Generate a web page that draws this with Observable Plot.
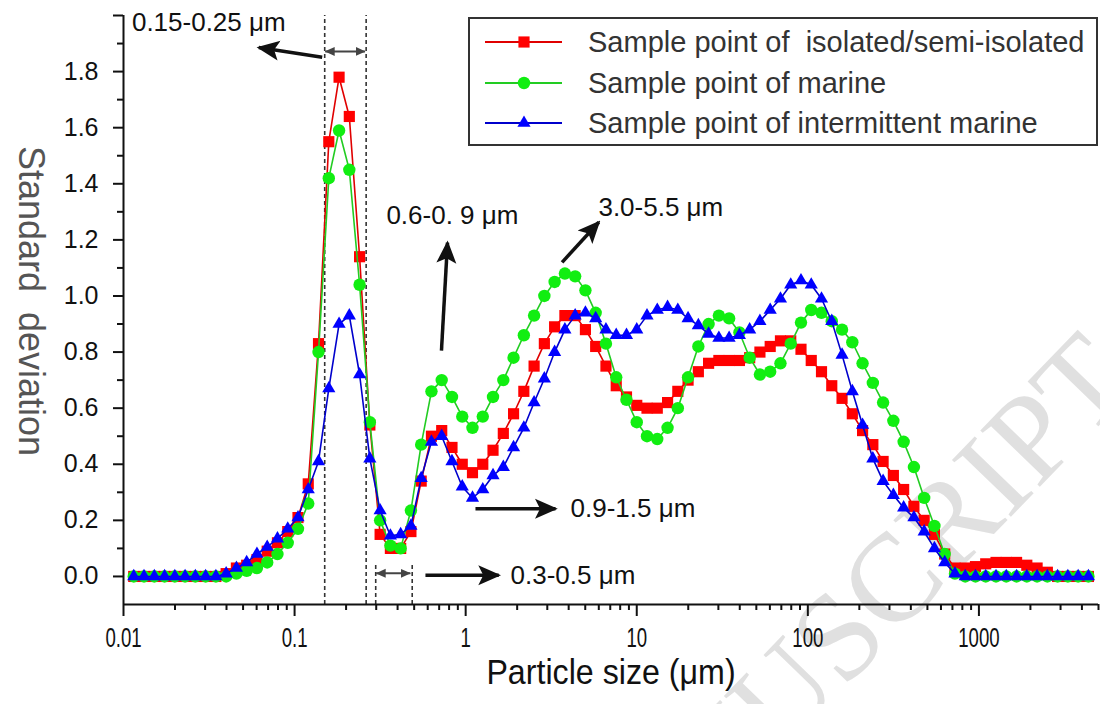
<!DOCTYPE html>
<html>
<head>
<meta charset="utf-8">
<script src="https://cdn.jsdelivr.net/npm/d3@7"></script>
<script src="https://cdn.jsdelivr.net/npm/@observablehq/plot@0.6"></script>
<style>
  html, body { margin: 0; padding: 0; background: #fff; }
  #wrap { position: relative; width: 1100px; height: 704px; overflow: hidden; font-family: "Liberation Sans", Arial, sans-serif; }
  #wrap svg text { white-space: pre; }
  #wm { position: absolute; left: 0; top: 0; }
  #wrap > svg.chart { position: absolute; left: 0; top: 0; }
  .legend { position: absolute; border: 2px solid #333; background: #fff; box-sizing: border-box; }
  .legend .row { position: absolute; left: 0; height: 40px; display: flex; align-items: center; }
  .legend .row span { font-size: 29px; color: #333; white-space: pre; margin-left: 10px; }
</style>
</head>
<body>
<div id="wrap"></div>
<script>
// ---------- data ----------
const sizes = [0.01148, 0.01318, 0.01514, 0.01738, 0.01995, 0.02291, 0.0263, 0.0302, 0.03467, 0.03981,
  0.04571, 0.05248, 0.06026, 0.06918, 0.07943, 0.0912, 0.1047, 0.1202, 0.138, 0.1585,
  0.182, 0.2089, 0.2399, 0.2754, 0.3162, 0.3631, 0.4169, 0.4786, 0.5495, 0.631,
  0.7244, 0.8318, 0.955, 1.096, 1.259, 1.445, 1.66, 1.905, 2.188, 2.512,
  2.884, 3.311, 3.802, 4.365, 5.012, 5.754, 6.607, 7.586, 8.71, 10,
  11.48, 13.18, 15.14, 17.38, 19.95, 22.91, 26.3, 30.2, 34.67, 39.81,
  45.71, 52.48, 60.26, 69.18, 79.43, 91.2, 104.7, 120.2, 138, 158.5,
  182, 208.9, 239.9, 275.4, 316.2, 363.1, 416.9, 478.6, 549.5, 631,
  724.4, 831.8, 955, 1096, 1259, 1445, 1660, 1905, 2188, 2512,
  2884, 3311, 3802, 4365];

const isolated = [0, 0, 0, 0, 0, 0, 0, 0, 0, 0.01,
  0.03, 0.04, 0.06, 0.09, 0.12, 0.16, 0.21, 0.33, 0.83, 1.55,
  1.78, 1.64, 1.14, 0.54, 0.15, 0.10, 0.10, 0.16, 0.34, 0.50,
  0.52, 0.46, 0.40, 0.37, 0.40, 0.45, 0.51, 0.58, 0.66, 0.75,
  0.83, 0.89, 0.93, 0.93, 0.88, 0.82, 0.75, 0.68, 0.64, 0.61,
  0.60, 0.60, 0.62, 0.66, 0.70, 0.73, 0.76, 0.77, 0.77, 0.77,
  0.78, 0.80, 0.82, 0.84, 0.84, 0.81, 0.77, 0.73, 0.68, 0.635,
  0.58, 0.52, 0.47, 0.41, 0.36, 0.31, 0.25, 0.20, 0.15, 0.08,
  0.03, 0.03, 0.035, 0.045, 0.05, 0.05, 0.05, 0.04, 0.03, 0.015,
  0, 0, 0, 0];

const marine = [0, 0, 0, 0, 0, 0, 0, 0, 0, 0,
  0.01, 0.02, 0.03, 0.05, 0.08, 0.12, 0.17, 0.26, 0.80, 1.42,
  1.59, 1.45, 1.04, 0.55, 0.20, 0.11, 0.10, 0.235, 0.47, 0.66,
  0.70, 0.64, 0.57, 0.53, 0.57, 0.64, 0.70, 0.78, 0.86, 0.93,
  1.00, 1.05, 1.08, 1.07, 1.02, 0.94, 0.83, 0.71, 0.63, 0.55,
  0.50, 0.49, 0.53, 0.60, 0.71, 0.82, 0.90, 0.93, 0.92, 0.87,
  0.78, 0.72, 0.73, 0.76, 0.83, 0.905, 0.95, 0.94, 0.91, 0.88,
  0.835, 0.76, 0.69, 0.62, 0.555, 0.48, 0.39, 0.28, 0.18, 0.08,
  0.01, 0, 0, 0, 0, 0, 0, 0, 0, 0,
  0, 0, 0, 0];

const intermittent = [0, 0, 0, 0, 0, 0, 0, 0, 0, 0.01,
  0.03, 0.05, 0.08, 0.105, 0.135, 0.17, 0.21, 0.31, 0.41, 0.67,
  0.90, 0.93, 0.72, 0.42, 0.235, 0.145, 0.15, 0.18, 0.35, 0.48,
  0.50, 0.41, 0.32, 0.28, 0.31, 0.36, 0.39, 0.46, 0.53, 0.62,
  0.705, 0.80, 0.88, 0.93, 0.94, 0.92, 0.88, 0.86, 0.86, 0.88,
  0.93, 0.95, 0.96, 0.95, 0.92, 0.895, 0.865, 0.85, 0.85, 0.86,
  0.88, 0.91, 0.95, 0.99, 1.04, 1.055, 1.04, 0.99, 0.91, 0.79,
  0.66, 0.54, 0.42, 0.34, 0.29, 0.245, 0.21, 0.16, 0.10, 0.05,
  0.01, 0, 0, 0, 0, 0, 0, 0, 0, 0,
  0, 0, 0, 0];

const seriesNames = ["Sample point of  isolated/semi-isolated", "Sample point of marine", "Sample point of intermittent marine"];
const seriesValues = [isolated, marine, intermittent];

const xMajorTicks = [0.01, 0.1, 1, 10, 100, 1000];
const xMinorTicks = [];
[0.01, 0.1, 1, 10, 100, 1000].forEach(d => [2,3,4,5,6,7,8,9].forEach(m => { const v = +(d*m).toPrecision(3); if (v <= 5000) xMinorTicks.push(v); }));
const yMajorTicks = [0, 0.2, 0.4, 0.6, 0.8, 1.0, 1.2, 1.4, 1.6, 1.8];
const yMinorTicks = [0.1, 0.3, 0.5, 0.7, 0.9, 1.1, 1.3, 1.5, 1.7, 1.9];

const xTitle = "Particle size (μm)";
const yTitle = "Standard  deviation";
const watermark = "ACCEPTED MANUSCRIPT";

// annotations (data coordinates)
const noteLabels = ["0.15-0.25 μm", "0.6-0. 9 μm", "3.0-5.5 μm", "0.9-1.5 μm", "0.3-0.5 μm"];
const noteX = [0.0112, 0.344, 5.97, 4.10, 1.83];
const noteY = [1.974, 1.287, 1.315, 0.242, 0.004];
const arrowX1 = [0.145, 0.722, 3.66, 1.141, 0.582];
const arrowY1 = [1.851, 0.805, 1.12, 0.241, 0.004];
const arrowX2 = [0.0618, 0.783, 6.0, 3.35, 1.561];
const arrowY2 = [1.886, 1.19, 1.263, 0.241, 0.004];
const bandX1 = [0.151, 0.30];
const bandX2 = [0.258, 0.475];
const bandY = [1.872, 0.011];
const dashFull = [0.15, 0.262];
const dashLow = [0.298, 0.487];

// ---------- build ----------
const colors = {
  marker: ["#ff0000", "#11ee11", "#0000ff"],
  line: ["#e00000", "#22cc22", "#0000cc"],
  symbol: ["square", "circle", "triangle"],
  r: [6.3, 6.2, 4.9]
};

const rows = seriesValues.map(vals => sizes.map((s, i) => ({ size: s, v: vals[i] })));
const notes = noteLabels.map((t, i) => ({ t, x: noteX[i], y: noteY[i] }));
const arrows = arrowX1.map((x1, i) => ({ x1, y1: arrowY1[i], x2: arrowX2[i], y2: arrowY2[i] }));
const bands = bandX1.map((x1, i) => ({ x1, x2: bandX2[i], y: bandY[i] }));

const seriesMarks = [];
rows.forEach((data, k) => {
  seriesMarks.push(Plot.line(data, { x: "size", y: "v", stroke: colors.line[k], strokeWidth: 1.6 }));
  seriesMarks.push(Plot.dot(data, { x: "size", y: "v", symbol: colors.symbol[k], r: colors.r[k], fill: colors.marker[k], stroke: "none" }));
});

const chart = Plot.plot({
  width: 1100,
  height: 704,
  marginLeft: 123,
  marginRight: 2,
  marginTop: 15,
  marginBottom: 100,
  style: { fontFamily: "'Liberation Sans', Arial, sans-serif", background: "transparent", overflow: "visible", color: "#111" },
  x: { type: "log", domain: [0.01, 5000], label: null },
  y: { domain: [-0.1, 2.0], label: null },
  marks: [
    Plot.ruleX(dashFull, { y1: -0.1, y2: 2.0, stroke: "#333", strokeWidth: 1.6, strokeDasharray: "4,3" }),
    Plot.ruleX(dashLow, { y1: -0.1, y2: 0.047, stroke: "#333", strokeWidth: 1.6, strokeDasharray: "4,3" }),
    ...seriesMarks,
    Plot.ruleX([0.01], { y1: -0.1, y2: 2.0, stroke: "#111", strokeWidth: 2 }),
    Plot.ruleY([-0.1], { x1: 0.01, x2: 5000, stroke: "#111", strokeWidth: 2 }),
    Plot.axisY(yMajorTicks, { anchor: "left", tickSize: 10, tickPadding: 15, tickFormat: d => d.toFixed(1), fontSize: 25, strokeWidth: 2, label: null, fill: "#111" }),
    Plot.axisY([2.0], { anchor: "left", tickSize: 10, tickFormat: () => "", strokeWidth: 2, label: null }),
    Plot.axisY(yMinorTicks, { anchor: "left", tickSize: 6, tickFormat: () => "", strokeWidth: 2, label: null }),
    Plot.axisX(xMajorTicks, { anchor: "bottom", tickSize: 12, tickPadding: 11, tickFormat: d => String(d), fontSize: 27, strokeWidth: 2, label: null, fill: "#111" }),
    Plot.axisX(xMinorTicks, { anchor: "bottom", tickSize: 6, tickFormat: () => "", strokeWidth: 2, label: null }),
    Plot.text([xTitle], { frameAnchor: "bottom", textAnchor: "middle", dy: 79, fontSize: 35, fill: "#111" }),
    Plot.text([yTitle], { frameAnchor: "left", textAnchor: "middle", dx: -93, dy: -9, rotate: 90, fontSize: 36, fill: "#555" }),
    Plot.text(notes, { x: "x", y: "y", text: "t", textAnchor: "start", fontSize: 26, fill: "#111" }),
    Plot.link(arrows, { x1: "x1", y1: "y1", x2: "x2", y2: "y2", stroke: "#111", strokeWidth: 3.5 }),
    Plot.link(bands, { x1: "x1", y1: "y", x2: "x2", y2: "y", stroke: "#444", strokeWidth: 2 })
  ]
});
chart.classList.add("chart");

// arrowheads
const ns = "http://www.w3.org/2000/svg";
const defs = document.createElementNS(ns, "defs");
function makeMarker(id, refX, size, orient, d, fill) {
  const m = document.createElementNS(ns, "marker");
  m.setAttribute("id", id);
  m.setAttribute("viewBox", "0 0 10 10");
  m.setAttribute("refX", refX);
  m.setAttribute("refY", 5);
  m.setAttribute("markerWidth", size);
  m.setAttribute("markerHeight", size);
  m.setAttribute("orient", orient);
  m.setAttribute("markerUnits", "strokeWidth");
  const p = document.createElementNS(ns, "path");
  p.setAttribute("d", d);
  p.setAttribute("fill", fill);
  p.setAttribute("stroke", "none");
  m.appendChild(p);
  defs.appendChild(m);
}
makeMarker("headB", 9, 6.5, "auto", "M0,0.6 L10,5 L0,9.4 L2.2,5 z", "#111");
makeMarker("headG", 9.5, 5, "auto-start-reverse", "M0,0.5 L10,5 L0,9.5 z", "#444");
chart.insertBefore(defs, chart.firstChild);
chart.querySelectorAll('g[stroke-width="3.5"] path').forEach(p => p.setAttribute("marker-end", "url(#headB)"));
chart.querySelectorAll('g[stroke="#444"] path').forEach(p => { p.setAttribute("marker-end", "url(#headG)"); p.setAttribute("marker-start", "url(#headG)"); });

// condensed look for x tick labels and x title
function squeezeText(t, sx) {
  const tr = t.getAttribute("transform");
  if (tr) t.setAttribute("transform", tr + ` scale(${sx},1)`);
  else {
    const x = +(t.getAttribute("x") || 0), y = +(t.getAttribute("y") || 0);
    t.setAttribute("x", 0); t.setAttribute("y", 0);
    t.setAttribute("transform", `translate(${x},${y}) scale(${sx},1)`);
  }
}
chart.querySelectorAll('g[aria-label="x-axis tick label"] text').forEach(t => squeezeText(t, 0.69));
chart.querySelectorAll('text').forEach(t => { if (t.textContent === xTitle) squeezeText(t, 0.92); });

const wrap = document.getElementById("wrap");

// faint watermark behind the chart
const wm = d3.select(wrap).append("svg").attr("id", "wm").attr("width", 1100).attr("height", 704);
wm.append("text")
  .attr("x", 1138).attr("y", 385)
  .attr("text-anchor", "end")
  .attr("transform", "rotate(-46 1138 385)")
  .attr("font-family", "'Liberation Serif', 'Times New Roman', serif")
  .attr("font-size", 125)
  .attr("fill", "#e0e0e0")
  .text(watermark);

wrap.appendChild(chart);

// legend (inside plot area, upper right)
const legend = d3.select(wrap).append("div").attr("class", "legend")
  .style("left", "468px").style("top", "17px").style("width", "630px").style("height", "129px");
const rowTops = [3, 44, 84];
seriesNames.forEach((name, k) => {
  const row = legend.append("div").attr("class", "row").style("top", rowTops[k] + "px");
  const s = row.append("svg").attr("width", 108).attr("height", 40);
  s.append("line").attr("x1", 15).attr("x2", 92).attr("y1", 20).attr("y2", 20).attr("stroke", colors.line[k]).attr("stroke-width", 2);
  const sym = { square: d3.symbolSquare, circle: d3.symbolCircle, triangle: d3.symbolTriangle }[colors.symbol[k]];
  s.append("path").attr("d", d3.symbol(sym, Math.PI * colors.r[k] * colors.r[k])()).attr("transform", "translate(54,20)").attr("fill", colors.marker[k]);
  row.append("span").text(name);
});
</script>
</body>
</html>
